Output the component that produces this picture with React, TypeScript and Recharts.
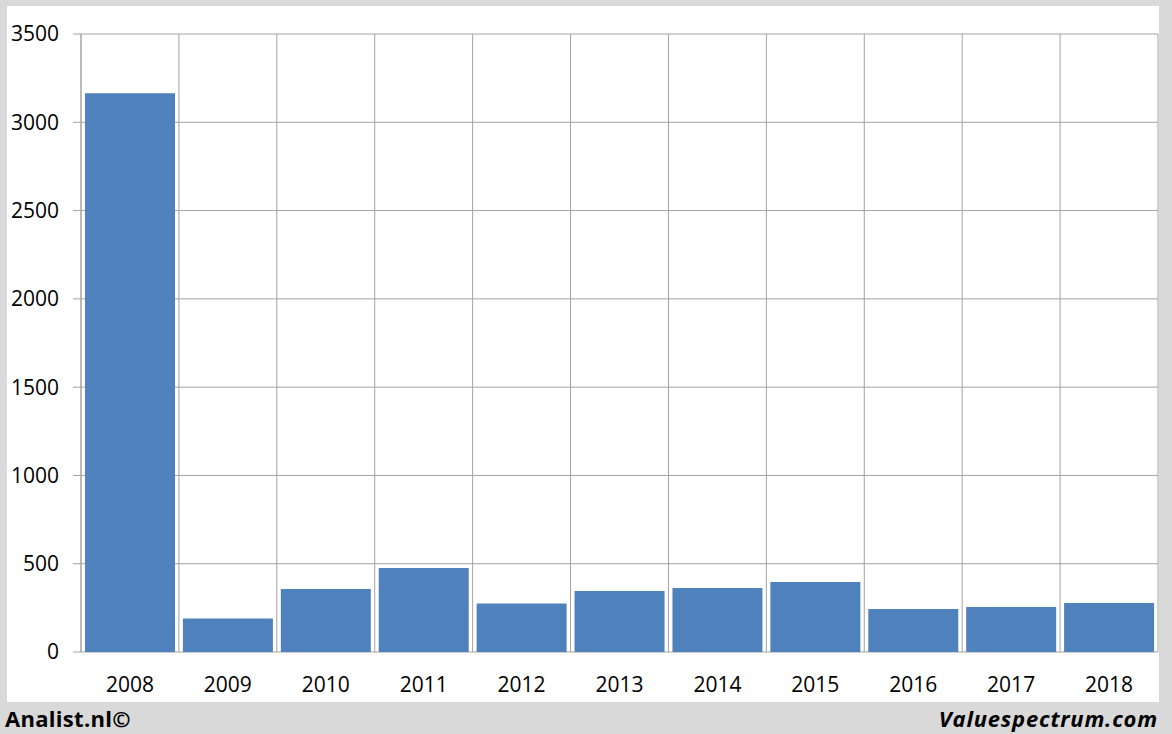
import React from "react";
import { BarChart, Bar, XAxis, YAxis, CartesianGrid } from "recharts";

const years = ["2008", "2009", "2010", "2011", "2012", "2013", "2014", "2015", "2016", "2017", "2018"];
const values = [3165, 190, 357, 476, 274, 345, 362, 396, 243, 255, 277];
const yTicks = [0, 500, 1000, 1500, 2000, 2500, 3000, 3500];
const boundaryTicks = [0, 1, 2, 3, 4, 5, 6, 7, 8, 9, 10, 11];

const data = years.map((y, i) => ({ year: y, value: values[i] }));

const GRID = "#a3a3a3";
const FONT = "'Open Sans', sans-serif";

export default function App() {
  return (
    <div
      style={{
        position: "absolute",
        left: 0,
        top: 0,
        width: 1172,
        height: 734,
        background: "#d9d9d9",
        fontFamily: FONT,
        overflow: "hidden",
      }}
    >
      <div
        style={{
          position: "absolute",
          left: 7,
          top: 6,
          width: 1152,
          height: 696,
          background: "#ffffff",
        }}
      >
        <BarChart
          width={1152}
          height={696}
          data={data}
          margin={{ top: 28, right: 1, bottom: 0, left: 0 }}
          barCategoryGap={4}
        >
          <XAxis
            xAxisId="grid"
            type="number"
            domain={[0, 11]}
            ticks={boundaryTicks}
            allowDataOverflow
            tick={false}
            tickLine={{ stroke: GRID }}
            tickSize={8}
            axisLine={{ stroke: GRID }}
            height={0}
            orientation="bottom"
          />
          <XAxis
            xAxisId="cat"
            dataKey="year"
            height={50}
            axisLine={false}
            tickLine={false}
            tickSize={0}
            tickMargin={25}
            interval={0}
            tick={{ fill: "#000", fontSize: 21, fontFamily: FONT }}
          />
          <YAxis
            domain={[0, 3500]}
            ticks={yTicks}
            width={74}
            interval={0}
            tickSize={8}
            tickMargin={14}
            tickLine={{ stroke: GRID }}
            axisLine={{ stroke: GRID }}
            tick={{ fill: "#000", fontSize: 21, fontFamily: FONT }}
          />
          <CartesianGrid
            xAxisId="cat"
            stroke={GRID}
            strokeWidth={1}
            verticalCoordinatesGenerator={({ offset }: any) =>
              boundaryTicks.map((i) => offset.left + (i * offset.width) / years.length)
            }
          />
          <Bar xAxisId="cat" dataKey="value" fill="#4f81bd" isAnimationActive={false} />
        </BarChart>
      </div>
      <div
        style={{
          position: "absolute",
          left: 5,
          top: 702,
          fontFamily: FONT,
          fontWeight: 700,
          fontSize: 22,
          color: "#000",
          lineHeight: "32px",
          letterSpacing: 0.3,
        }}
      >
        Analist.nl©
      </div>
      <div
        style={{
          position: "absolute",
          right: 14,
          top: 702,
          fontFamily: FONT,
          fontWeight: 700,
          fontStyle: "italic",
          fontSize: 22,
          color: "#000",
          lineHeight: "32px",
          letterSpacing: 0.8,
        }}
      >
        Valuespectrum.com
      </div>
    </div>
  );
}
